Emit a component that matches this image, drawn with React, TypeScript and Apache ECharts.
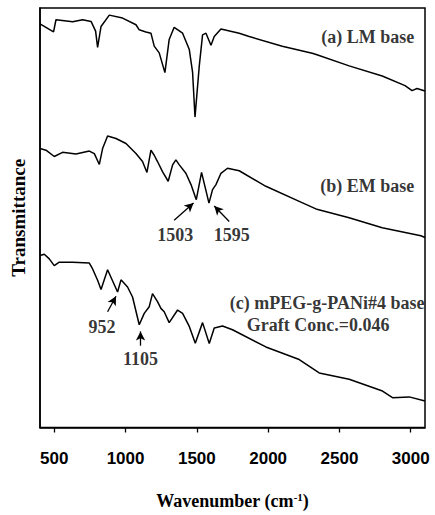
import React, { useEffect, useRef } from "react";
import * as echarts from "echarts";

// [wavenumber (cm-1), transmittance (a.u.)]
const traceA: [number, number][] = [
  [400, 96.2], [495, 94.3], [512, 97.2], [629, 96.7], [699, 97.2], [758, 96.8], [790, 94.5], [804, 90.6],
  [828, 95.6], [886, 98.3], [979, 97.6], [1073, 96.0], [1096, 94.8], [1143, 94.3], [1178, 94.0],
  [1201, 90.9], [1236, 89.3], [1276, 84.6], [1306, 92.5], [1341, 95.4], [1400, 94.0], [1447, 90.1],
  [1470, 84.7], [1487, 74.0], [1517, 86.2], [1540, 93.6], [1564, 94.0], [1599, 91.1], [1622, 93.2],
  [1669, 95.0], [1797, 94.0], [1867, 93.2], [2099, 90.9], [2309, 89.2], [2337, 88.9], [2568, 86.2],
  [2800, 83.8], [2960, 81.5], [3009, 80.3], [3044, 80.8], [3100, 80.2],
];

const traceB: [number, number][] = [
  [400, 66.5], [442, 66.1], [500, 64.6], [558, 65.6], [652, 65.2], [746, 65.9], [781, 65.3],
  [816, 62.7], [839, 66.5], [874, 69.5], [933, 68.9], [1003, 67.7], [1073, 65.3], [1119, 63.4],
  [1150, 60.8], [1178, 66.1], [1201, 64.9], [1224, 63.4], [1259, 61.0], [1299, 58.7], [1330, 62.6],
  [1353, 63.8], [1377, 62.6], [1423, 60.6], [1459, 57.9], [1496, 54.3], [1533, 60.8], [1585, 53.5],
  [1610, 56.7], [1634, 57.9], [1669, 60.6], [1715, 61.8], [1797, 61.2], [1984, 57.5], [2218, 53.9],
  [2335, 52.1], [2568, 50.0], [2800, 47.6], [3071, 45.7], [3100, 45.3],
];

const traceC: [number, number][] = [
  [400, 41.0], [430, 41.3], [465, 40.2], [500, 38.6], [535, 39.4], [629, 39.4], [746, 39.2],
  [769, 37.8], [804, 35.1], [828, 32.9], [874, 37.6], [944, 32.3], [968, 35.2], [1014, 33.5],
  [1049, 31.1], [1096, 24.5], [1131, 27.2], [1166, 28.8], [1189, 31.9], [1224, 30.0], [1248, 28.4],
  [1271, 27.6], [1306, 25.0], [1365, 28.0], [1400, 27.2], [1447, 24.1], [1489, 20.1], [1540, 25.0],
  [1587, 20.0], [1622, 23.7], [1680, 24.2], [1750, 23.3], [1984, 19.2], [2218, 16.2], [2358, 13.0],
  [2568, 11.5], [2802, 8.7], [2872, 7.1], [2989, 7.3], [3100, 6.3],
];

const tickValues = [500, 1000, 1500, 2000, 2500, 3000];

// annotation labels: [text, wavenumber, transmittance, align]
const labels: [string, number, number, string][] = [
  ["(a) LM base", 3024, 93.2, "right"],
  ["(b) EM base", 3024, 57.5, "right"],
  ["1503", 1348, 46.0, "center"],
  ["1595", 1745, 46.0, "center"],
  ["(c) mPEG-g-PANi#4 base", 3096, 29.6, "right"],
  ["Graft Conc.=0.046", 2351, 24.5, "center"],
  ["952", 835, 23.9, "center"],
  ["1105", 1105, 16.3, "center"],
];

// arrows: [fromWn, fromT, toWn, toT]
const arrows: [number, number, number, number][] = [
  [1341, 49.4, 1477, 53.5],
  [1727, 49.1, 1622, 52.8],
  [874, 27.6, 933, 31.3],
  [1105, 19.5, 1105, 22.9],
];

const SERIF = "'Liberation Serif', 'DejaVu Serif', serif";
const SANS = "'Liberation Sans', Arial, sans-serif";

export default function App() {
  const ref = useRef<HTMLDivElement>(null);
  useEffect(() => {
    document.body.style.margin = "0";
    const chart = echarts.init(ref.current!, null, { renderer: "svg" });
    const lineStyle = { color: "#000", width: 1.5 };
    const traceSeries = [traceA, traceB, traceC].map((d) => ({
      type: "line",
      data: d,
      showSymbol: false,
      symbol: "none",
      lineStyle,
      silent: true,
    }));
    chart.setOption({
      animation: false,
      grid: {
        left: 40,
        right: 10,
        top: 8,
        bottom: 83,
        show: true,
        borderColor: "#000",
        borderWidth: 1.5,
      },
      xAxis: {
        type: "value",
        min: 400,
        max: 3100,
        name: "Wavenumber (cm{sup|-1})",
        nameLocation: "middle",
        nameGap: 64,
        nameTextStyle: {
          fontFamily: SERIF,
          fontWeight: "bold",
          fontSize: 18,
          color: "#000",
          rich: {
            sup: {
              fontFamily: SERIF,
              fontWeight: "bold",
              fontSize: 11,
              color: "#000",
              verticalAlign: "top",
              padding: [0, 0, 8, 0],
            },
          },
        },
        axisLine: { show: true, lineStyle: { color: "#000", width: 1.5 } },
        axisTick: { show: true, inside: false, length: 5, customValues: tickValues, lineStyle: { color: "#000", width: 1.3 } },
        axisLabel: {
          customValues: tickValues,
          formatter: (v: number) => String(v),
          margin: 22,
          fontFamily: SANS,
          fontWeight: "bold",
          fontSize: 17,
          color: "#000",
        },
        splitLine: { show: false },
      },
      yAxis: {
        type: "value",
        min: 0,
        max: 100,
        name: "Transmittance",
        nameLocation: "middle",
        nameRotate: 90,
        nameGap: 12,
        nameTextStyle: {
          fontFamily: SERIF,
          fontWeight: "bold",
          fontSize: 19,
          color: "#000",
        },
        axisLine: { show: true, lineStyle: { color: "#000", width: 1.5 } },
        axisTick: { show: false },
        axisLabel: { show: false },
        splitLine: { show: false },
      },
      series: [
        ...traceSeries,
        {
          type: "scatter",
          data: labels.map((l) => ({
            value: [l[1], l[2]],
            label: { align: l[3] },
          })),
          symbolSize: 0,
          silent: true,
          label: {
            show: true,
            position: "inside",
            formatter: (p: any) => labels[p.dataIndex][0],
            fontFamily: SERIF,
            fontWeight: "bold",
            fontSize: 18,
            color: "#000",
          },
        },
        {
          type: "line",
          data: [],
          silent: true,
          markLine: {
            silent: true,
            symbol: ["none", "arrow"],
            symbolSize: [7, 9],
            label: { show: false },
            lineStyle: { color: "#000", width: 1.3, type: "solid" },
            data: arrows.map((a) => [
              { coord: [a[0], a[1]] },
              { coord: [a[2], a[3]] },
            ]),
          },
        },
      ],
    });
    return () => chart.dispose();
  }, []);
  return <div ref={ref} style={{ width: 435, height: 515 }} />;
}
